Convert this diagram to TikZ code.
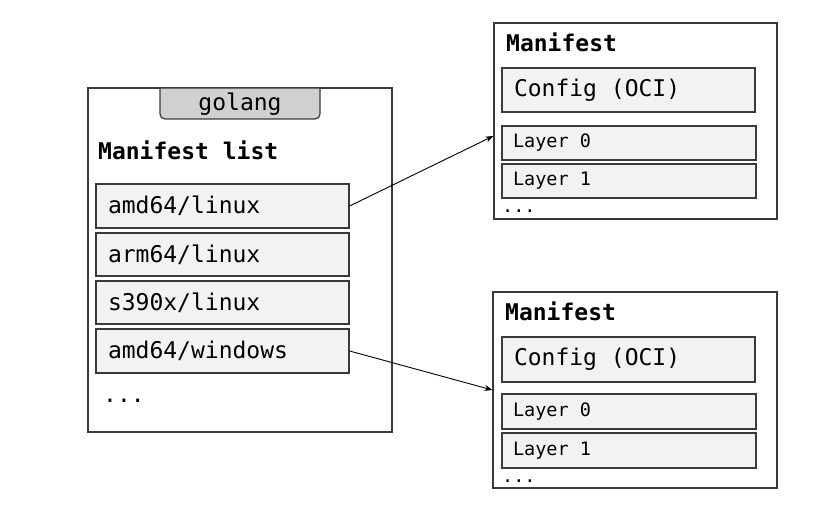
\documentclass[tikz,border=0pt]{standalone}
\usepackage{fontspec}
\setmonofont{DejaVu Sans Mono}
\usetikzlibrary{arrows.meta}
\definecolor{edge}{HTML}{3A3A3A}
\definecolor{boxfill}{HTML}{F2F2F2}
\definecolor{tabfill}{HTML}{D0D0D0}
\tikzset{
  outer/.style={draw=edge, line width=1.2pt, fill=white, inner sep=0pt},
  item/.style={draw=edge, line width=1.2pt, fill=boxfill, inner sep=0pt, inner xsep=12pt,
     align=flush left, font=\fontsize{23}{26}\selectfont\ttfamily},
  layer/.style={draw=edge, line width=1.2pt, fill=boxfill, inner sep=0pt, inner xsep=11pt,
     align=flush left, font=\fontsize{18.5}{22}\selectfont\ttfamily},
  title/.style={inner sep=0pt, anchor=base west, font=\fontsize{23}{26}\selectfont\ttfamily\bfseries},
  plain/.style={inner sep=0pt, font=\fontsize{23}{26}\selectfont\ttfamily},
  dots/.style={inner sep=0pt, anchor=base west, font=\fontsize{18.5}{22}\selectfont\ttfamily},
  conn/.style={draw=black, line width=0.9pt, -{Stealth[length=8pt,width=6pt]}}
}
\begin{document}
\begin{tikzpicture}[x=1pt,y=-1pt]
\useasboundingbox (0,0) rectangle (813,510);
% left manifest list
\node[outer, minimum width=304pt, minimum height=344pt] (list) at (240,260) {};
\draw[draw=edge, line width=1.2pt, fill=tabfill] (160,88) [rounded corners=5pt] -- (160,119) -- (320,119) [sharp corners] -- (320,88) -- cycle;
\node[plain, anchor=base] (golang) at (240,111) {golang};
\node[title] (mlist) at (98,160) {Manifest list};
\node[item, minimum width=253pt, minimum height=44pt, text width=229pt] (l1) at (222.5,206) {amd64/linux};
\node[item, minimum width=253pt, minimum height=43pt, text width=229pt] (l2) at (222.5,254.5) {arm64/linux};
\node[item, minimum width=253pt, minimum height=43pt, text width=229pt] (l3) at (222.5,302.5) {s390x/linux};
\node[item, minimum width=253pt, minimum height=44pt, text width=229pt] (l4) at (222.5,351) {amd64/windows};
\node[plain, anchor=base west] (ldots) at (103,402) {...};
% top right manifest
\node[outer, minimum width=283pt, minimum height=196pt] (m1) at (635.5,121) {};
\node[title] (m1t) at (506,52) {Manifest};
\node[item, minimum width=253pt, minimum height=44pt, text width=229pt] (m1c) at (628.5,90) {Config (OCI)};
\node[layer, minimum width=254pt, minimum height=34pt, text width=232pt] (m1l0) at (629,143) {Layer 0};
\node[layer, minimum width=254pt, minimum height=34pt, text width=232pt] (m1l1) at (629,181) {Layer 1};
\node[dots] (m1d) at (502,213) {...};
% bottom right manifest
\node[outer, minimum width=284pt, minimum height=196pt] (m2) at (635,390) {};
\node[title] (m2t) at (505,320) {Manifest};
\node[item, minimum width=253pt, minimum height=45pt, text width=229pt] (m2c) at (628.5,359.5) {Config (OCI)};
\node[layer, minimum width=254pt, minimum height=35pt, text width=232pt] (m2l0) at (629,411.5) {Layer 0};
\node[layer, minimum width=254pt, minimum height=35pt, text width=232pt] (m2l1) at (629,450.5) {Layer 1};
\node[dots] (m2d) at (502,482) {...};
% connectors
\coordinate (a1) at (m1.west |- 0,136);
\coordinate (a2) at (m2.west |- 0,390);
\draw[conn] (l1.east) -- (a1);
\draw[conn] (l4.east) -- (a2);
\end{tikzpicture}
\end{document}
